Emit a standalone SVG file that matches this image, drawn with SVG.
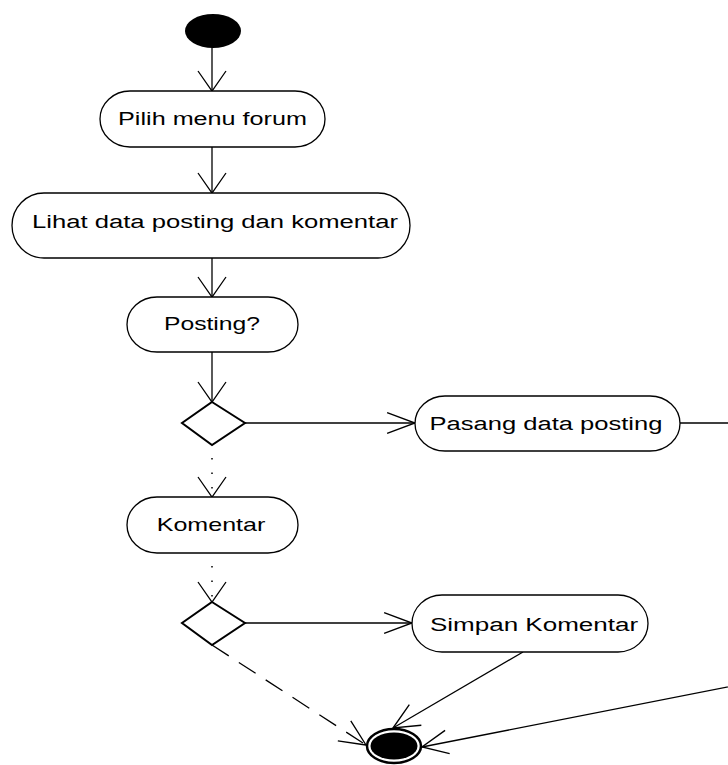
<svg xmlns="http://www.w3.org/2000/svg" width="728" height="765" viewBox="0 0 728 765">
  <style>
    .bg { fill: #ffffff; }
    .action { fill: #ffffff; stroke: #000000; stroke-width: 1.3; }
    .decision { fill: #ffffff; stroke: #000000; stroke-width: 2; }
    .label { font-family: "Liberation Sans", Arial, sans-serif; font-size: 19px; fill: #000000; text-anchor: middle; }
    .flow { fill: none; stroke: #000000; stroke-width: 1.3; }
    .dotted { stroke-dasharray: 1.5 13; stroke-dashoffset: 1.5; stroke-width: 1.5; }
    .dashed { stroke-dasharray: 20 12; }
    .head { fill: none; stroke: #000000; stroke-width: 1.3; }
  </style>
  <defs>
    <!-- open arrowheads: taller for vertical flows, longer for horizontal/diagonal ones -->
    <marker id="headV" markerUnits="userSpaceOnUse" orient="auto" markerWidth="30" markerHeight="32" viewBox="-22 -16 24 32" refX="0" refY="0">
      <path class="head" d="M-20,-14 L0,0 L-20,14"/>
    </marker>
    <marker id="headH" markerUnits="userSpaceOnUse" orient="auto" markerWidth="32" markerHeight="26" viewBox="-29 -12 31 24" refX="0" refY="0">
      <path class="head" d="M-27,-10 L0,0 L-27,10"/>
    </marker>
    <marker id="headD" markerUnits="userSpaceOnUse" orient="auto" markerWidth="30" markerHeight="28" viewBox="-27 -13 29 26" refX="0" refY="0">
      <path class="head" d="M-25,-11.5 L0,0 L-25,11.5"/>
    </marker>
  </defs>

  <rect class="bg" x="0" y="0" width="728" height="765"/>

  <!-- control flows -->
  <g id="connectors">
    <path class="flow" d="M212,47 L212,91" marker-end="url(#headV)"/>
    <path class="flow" d="M212,147 L212,193" marker-end="url(#headV)"/>
    <path class="flow" d="M212,258 L212,297" marker-end="url(#headV)"/>
    <path class="flow" d="M212,352 L212,402" marker-end="url(#headV)"/>
    <path class="flow" d="M245,423 L415,423" marker-end="url(#headH)"/>
    <path class="flow" d="M680,423 L745,423 L745,683.6 L422,747" marker-end="url(#headD)"/>
    <path class="flow dotted" d="M212,445 L212,497" marker-end="url(#headV)"/>
    <path class="flow dotted" d="M212,553 L212,602" marker-end="url(#headV)"/>
    <path class="flow" d="M245,623 L412,623" marker-end="url(#headH)"/>
    <path class="flow" d="M523,652 L393,728" marker-end="url(#headD)"/>
    <path class="flow dashed" d="M212,645 L366,745" marker-end="url(#headD)"/>
  </g>

  <g id="start">
    <ellipse cx="213" cy="31" rx="28" ry="17" fill="#000000"/>
  </g>

  <!-- labels are set in a horizontally widened face -->
  <g id="pilih-menu-forum">
    <rect class="action" x="100" y="91" width="225" height="56" rx="30" ry="28"/>
    <text class="label" transform="translate(212.5,124.5) scale(1.326,1)">Pilih menu forum</text>
  </g>

  <g id="lihat-data">
    <rect class="action" x="12" y="193" width="398" height="65" rx="32" ry="32.5"/>
    <text class="label" transform="translate(215,228) scale(1.349,1)">Lihat data posting dan komentar</text>
  </g>

  <g id="posting">
    <rect class="action" x="127" y="297" width="171" height="55" rx="30" ry="27.5"/>
    <text class="label" transform="translate(212,330) scale(1.3,1)">Posting?</text>
  </g>

  <g id="decision-posting">
    <polygon class="decision" points="212,402 245,423 212,445 182,423"/>
  </g>

  <g id="pasang-data-posting">
    <rect class="action" x="415" y="396" width="265" height="55" rx="30" ry="27.5"/>
    <text class="label" transform="translate(546,430) scale(1.345,1)">Pasang data posting</text>
  </g>

  <g id="komentar">
    <rect class="action" x="127" y="497" width="171" height="56" rx="30" ry="28"/>
    <text class="label" transform="translate(211,530.5) scale(1.32,1)">Komentar</text>
  </g>

  <g id="decision-komentar">
    <polygon class="decision" points="212,602 245,623 212,645 182,623"/>
  </g>

  <g id="simpan-komentar">
    <rect class="action" x="412" y="595" width="236" height="57" rx="30" ry="28.5"/>
    <text class="label" transform="translate(534,631) scale(1.37,1)">Simpan Komentar</text>
  </g>

  <g id="end">
    <ellipse cx="394" cy="746" rx="27" ry="17" fill="#ffffff" stroke="#000000" stroke-width="2.5"/>
    <ellipse cx="394" cy="746" rx="23.5" ry="13.5" fill="#000000"/>
  </g>
</svg>
